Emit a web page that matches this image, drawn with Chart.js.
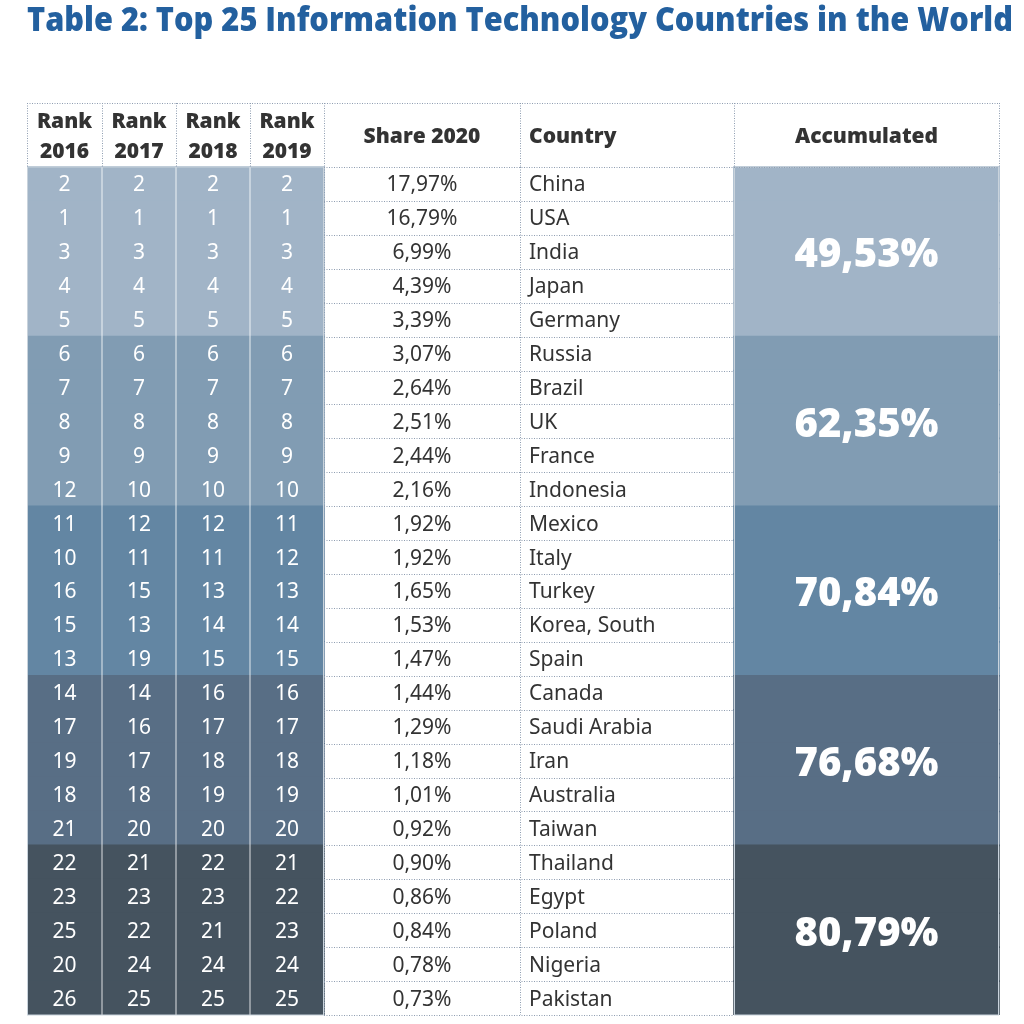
<!DOCTYPE html>
<html>
<head>
<meta charset="utf-8">
<script src="https://cdn.jsdelivr.net/npm/chart.js@4.4.1/dist/chart.umd.min.js"></script>
<style>
  html, body { margin: 0; padding: 0; background: #fff; }
  #wrap { width: 1024px; height: 1024px; }
</style>
</head>
<body>
<div id="wrap"><canvas id="tableChart"></canvas></div>
<script>
const rank2016 = [2, 1, 3, 4, 5, 6, 7, 8, 9, 12, 11, 10, 16, 15, 13, 14, 17, 19, 18, 21, 22, 23, 25, 20, 26];
const rank2017 = [2, 1, 3, 4, 5, 6, 7, 8, 9, 10, 12, 11, 15, 13, 19, 14, 16, 17, 18, 20, 21, 23, 22, 24, 25];
const rank2018 = [2, 1, 3, 4, 5, 6, 7, 8, 9, 10, 12, 11, 13, 14, 15, 16, 17, 18, 19, 20, 22, 23, 21, 24, 25];
const rank2019 = [2, 1, 3, 4, 5, 6, 7, 8, 9, 10, 11, 12, 13, 14, 15, 16, 17, 18, 19, 20, 21, 22, 23, 24, 25];
const share2020 = [17.97, 16.79, 6.99, 4.39, 3.39, 3.07, 2.64, 2.51, 2.44, 2.16, 1.92, 1.92, 1.65, 1.53, 1.47,
  1.44, 1.29, 1.18, 1.01, 0.92, 0.90, 0.86, 0.84, 0.78, 0.73];
const countries = ["China", "USA", "India", "Japan", "Germany", "Russia", "Brazil", "UK", "France", "Indonesia",
  "Mexico", "Italy", "Turkey", "Korea, South", "Spain", "Canada", "Saudi Arabia", "Iran", "Australia", "Taiwan",
  "Thailand", "Egypt", "Poland", "Nigeria", "Pakistan"];
const accumulated = [49.53, 62.35, 70.84, 76.68, 80.79];
const headers = [["Rank", "2016"], ["Rank", "2017"], ["Rank", "2018"], ["Rank", "2019"], ["Share 2020"], ["Country"], ["Accumulated"]];

// layout (x units = px across the table, y units = rows)
const colEdges = [0, 75, 149, 223, 297, 493, 707, 972];
const xEnd = 986; // a little room right of the table so the title can run wider
const headerRows = 1.887;
const groupSize = 5;
const groupColors = ["#a1b4c7", "#819cb3", "#6386a3", "#586e85", "#45535f"];

const fmt = v => v.toFixed(2).replace(".", ",") + "%";
const groupOf = i => Math.floor(i / groupSize);

const rankCols = [rank2016, rank2017, rank2018, rank2019];
const datasets = rankCols.map((col, c) => ({
  label: headers[c].join(" "),
  data: col.map((r, i) => ({ y: i, x: [colEdges[c], colEdges[c + 1]] })),
  backgroundColor: ctx => groupColors[groupOf(ctx.dataIndex)],
}));
datasets.push({
  label: "Accumulated",
  data: countries.map((_, i) => ({ y: i, x: [colEdges[6], colEdges[7]] })),
  backgroundColor: ctx => groupColors[groupOf(ctx.dataIndex)],
});

const tablePlugin = {
  id: "tableText",
  afterDatasetsDraw(chart) {
    const { ctx, scales: { x, y } } = chart;
    const xp = v => x.getPixelForValue(v);
    const yp = v => y.getPixelForValue(v);
    const mid = c => xp((colEdges[c] + colEdges[c + 1]) / 2);
    const top = -0.5 - headerRows;
    const last = countries.length - 0.5;
    ctx.save();

    // rank column separators
    ctx.strokeStyle = "rgba(255,255,255,0.55)";
    ctx.lineWidth = 1.5;
    [1, 2, 3].forEach(c => {
      ctx.beginPath();
      ctx.moveTo(xp(colEdges[c]), yp(-0.5));
      ctx.lineTo(xp(colEdges[c]), yp(last));
      ctx.stroke();
    });
    // light outline of coloured blocks
    ctx.strokeStyle = "#c9d3dc";
    ctx.lineWidth = 1;
    ctx.strokeRect(xp(colEdges[0]) + 0.5, yp(-0.5), xp(colEdges[4]) - xp(colEdges[0]) - 1, yp(last) - yp(-0.5));
    ctx.strokeRect(xp(colEdges[6]) + 0.5, yp(-0.5), xp(colEdges[7]) - xp(colEdges[6]) - 1, yp(last) - yp(-0.5));

    // dotted grid
    ctx.strokeStyle = "#8e9db0";
    ctx.lineWidth = 1;
    ctx.setLineDash([1, 1.5]);
    const hline = (v, x0, x1) => {
      ctx.beginPath();
      ctx.moveTo(xp(x0), Math.round(yp(v)) + 0.5);
      ctx.lineTo(xp(x1), Math.round(yp(v)) + 0.5);
      ctx.stroke();
    };
    const vline = (e, v0, v1) => {
      ctx.beginPath();
      ctx.moveTo(Math.round(xp(e)) + 0.5, yp(v0));
      ctx.lineTo(Math.round(xp(e)) + 0.5, yp(v1));
      ctx.stroke();
    };
    hline(top, colEdges[0], colEdges[7]);
    hline(-0.5, colEdges[4], colEdges[7]);
    for (let k = 1; k <= countries.length; k++) hline(k - 0.5, colEdges[4], colEdges[6]);
    colEdges.forEach(e => vline(e, top, -0.5));
    vline(colEdges[4], -0.5, last);
    vline(colEdges[5], -0.5, last);
    ctx.setLineDash([]);

    // header text
    ctx.textBaseline = "middle";
    ctx.fillStyle = "#333333";
    ctx.font = "800 21px 'Open Sans'";
    const hMid = yp(-0.5 - headerRows / 2) + 2.5;
    headers.forEach((lines, c) => {
      if (c === 5) {
        ctx.textAlign = "left";
        ctx.fillText(lines[0], xp(colEdges[5]) + 9, hMid);
      } else {
        ctx.textAlign = "center";
        if (lines.length === 2) {
          ctx.fillText(lines[0], mid(c), hMid - 15);
          ctx.fillText(lines[1], mid(c), hMid + 15);
        } else {
          ctx.fillText(lines[0], mid(c), hMid);
        }
      }
    });

    // body text
    ctx.font = "21px 'Noto Sans'";
    countries.forEach((name, i) => {
      const yy = yp(i) + 1.5;
      ctx.textAlign = "center";
      ctx.fillStyle = "#ffffff";
      rankCols.forEach((col, c) => ctx.fillText(String(col[i]), mid(c), yy));
      ctx.fillStyle = "#333333";
      ctx.fillText(fmt(share2020[i]), mid(4), yy);
      ctx.textAlign = "left";
      ctx.fillText(name, xp(colEdges[5]) + 9, yy);
    });

    // accumulated group totals
    ctx.font = "800 40px 'Open Sans'";
    ctx.textAlign = "center";
    ctx.fillStyle = "#ffffff";
    accumulated.forEach((v, g) => {
      ctx.fillText(fmt(v), mid(6), yp(g * groupSize + (groupSize - 1) / 2) + 4);
    });
    ctx.restore();
  }
};

new Chart(document.getElementById("tableChart"), {
  type: "bar",
  data: { datasets },
  options: {
    indexAxis: "y",
    responsive: true,
    maintainAspectRatio: false,
    animation: false,
    events: [],
    datasets: { bar: { grouped: false, barPercentage: 1, categoryPercentage: 1, borderWidth: 0, inflateAmount: 0.8 } },
    layout: { padding: { top: 0, left: 27, right: 11, bottom: 9 } },
    plugins: {
      legend: { display: false },
      tooltip: { enabled: false },
      title: {
        display: true,
        text: "Table 2: Top 25 Information Technology Countries in the World",
        align: "start",
        color: "#23609f",
        font: { family: "'Open Sans'", size: 33, weight: "800", lineHeight: 1.2 },
        padding: { top: 2, bottom: 61.4 }
      }
    },
    scales: {
      x: { type: "linear", bounds: "data", offset: false, min: colEdges[0], max: xEnd, display: false },
      y: {
        type: "linear", offset: false, reverse: true,
        min: -0.5 - headerRows, max: countries.length - 0.5,
        display: false, ticks: { stepSize: 1, includeBounds: false }
      }
    }
  },
  plugins: [tablePlugin]
});
</script>
</body>
</html>
